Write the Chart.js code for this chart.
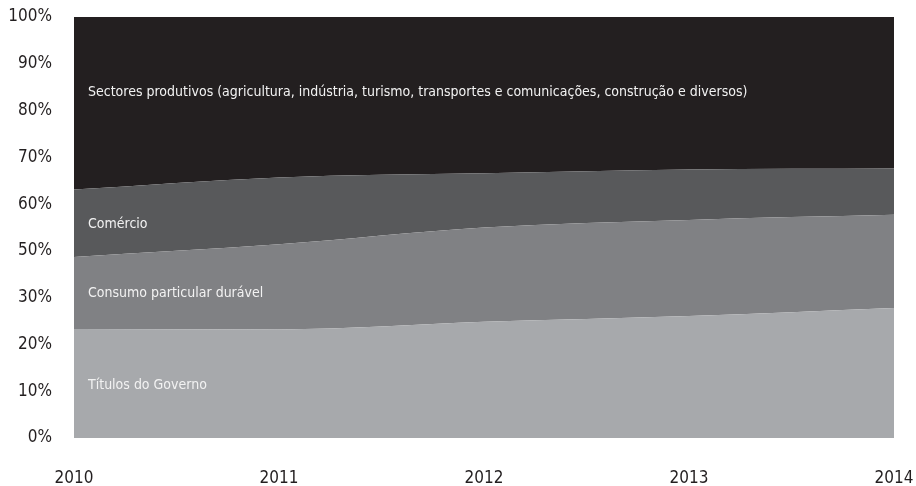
<!DOCTYPE html>
<html>
<head>
<meta charset="utf-8">
<script src="https://cdn.jsdelivr.net/npm/chart.js@4"></script>
<style>
  html, body { margin: 0; padding: 0; background: #ffffff; }
  #wrap { width: 916px; height: 486px; position: relative; }
</style>
</head>
<body>
<div id="wrap"><canvas id="c" width="916" height="486"></canvas></div>
<script>
const years = ["2010", "2011", "2012", "2013", "2014"];
const titulosGoverno = [25.9, 25.8, 27.6, 29.0, 30.9];
const consumoDuravel = [17.1, 20.2, 22.4, 22.8, 22.1];
const comercio = [16.0, 15.9, 12.9, 12.0, 11.0];
const sectoresProdutivos = [41.0, 38.1, 37.1, 36.2, 36.0];
const yTickLabels = ["0%", "10%", "20%", "30%", "50%", "60%", "70%", "80%", "90%", "100%"];
const seriesNames = [
  "Títulos do Governo",
  "Consumo particular durável",
  "Comércio",
  "Sectores produtivos (agricultura, indústria, turismo, transportes e comunicações, construção e diversos)"
];

const FONT = "'Liberation Sans Narrow', 'DejaVu Sans Condensed', 'Roboto', sans-serif";
const colors = ["#a7a9ac", "#808184", "#58595b", "#231f20"];
const labelValues = [12.4, 34.4, 50.8, 82.2];

const seriesData = [titulosGoverno, consumoDuravel, comercio, sectoresProdutivos];

const areaLabels = {
  id: 'areaLabels',
  afterDatasetsDraw(chart) {
    const { ctx, chartArea, scales } = chart;
    ctx.save();
    ctx.fillStyle = '#f2f2f2';
    ctx.font = "14px " + FONT;
    ctx.textBaseline = 'middle';
    ctx.textAlign = 'left';
    seriesNames.forEach((n, i) => {
      ctx.fillText(n, chartArea.left + 14, scales.y.getPixelForValue(labelValues[i]));
    });
    ctx.restore();
  }
};

function noPad(s) {
  s.paddingLeft = 0; s.paddingRight = 0; s.paddingTop = 0; s.paddingBottom = 0;
}

new Chart(document.getElementById('c'), {
  type: 'line',
  data: {
    labels: years,
    datasets: seriesData.map((d, i) => ({
      label: seriesNames[i],
      data: d,
      backgroundColor: colors[i],
      borderColor: colors[i],
      borderWidth: 0,
      pointRadius: 0,
      fill: i === 0 ? 'origin' : '-1',
      cubicInterpolationMode: 'monotone'
    }))
  },
  options: {
    responsive: false,
    animation: false,
    layout: { padding: { top: 17, right: 22, left: 0, bottom: 0 } },
    plugins: { legend: { display: false }, tooltip: { enabled: false } },
    scales: {
      x: {
        offset: false,
        grid: { display: false, drawTicks: false },
        border: { display: false },
        ticks: { color: '#231f20', font: { family: FONT, size: 17 }, padding: 30, maxRotation: 0, autoSkip: false },
        afterFit(s) { s.height = 48; noPad(s); }
      },
      y: {
        stacked: true,
        min: 0,
        max: 100,
        grid: { display: false, drawTicks: false },
        border: { display: false },
        afterBuildTicks(s) {
          s.ticks = yTickLabels.map((_, i) => ({ value: i * 100 / (yTickLabels.length - 1) }));
        },
        ticks: {
          color: '#231f20',
          font: { family: FONT, size: 17 },
          padding: 22,
          callback: (v, i) => yTickLabels[i]
        },
        afterFit(s) { s.width = 74; noPad(s); }
      }
    }
  },
  plugins: [areaLabels]
});
</script>
</body>
</html>
